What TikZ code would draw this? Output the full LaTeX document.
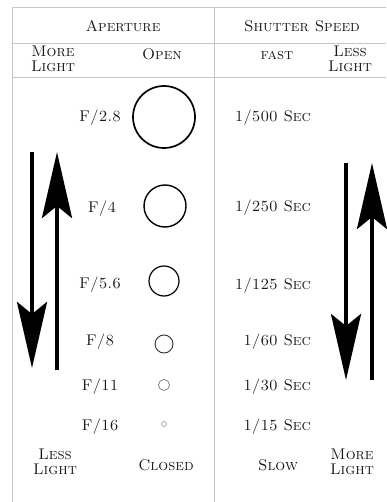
\documentclass[tikz,border=0pt]{standalone}
\usetikzlibrary{arrows.meta}

\begin{document}
\begin{tikzpicture}[x=1pt, y=-1pt,
  lbl/.style={font=\fontsize{15.5}{14.5}\selectfont\scshape, text=black!90,
              align=center, inner sep=0pt},
  rule/.style={draw=black!22, line width=0.8pt},
  hole/.style={circle, draw=#1, inner sep=0pt, outer sep=0pt},
  bigarr/.style={-{Stealth[length=66pt, width=30pt, inset=12pt]}, line width=4pt}
]
\useasboundingbox (0,0) rectangle (386,502);

%% ── Table rules ────────────────────────────────────────────────
\draw[rule] (12,502) -- (12,7) -- (386,7);
\draw[rule] (12,43) -- (386,43);
\draw[rule] (12,77) -- (386,77);
\draw[rule] (214,7) -- (214,502);

%% ── Headers ────────────────────────────────────────────────────
\node[lbl, anchor=base] (aper) at (123,32) {Aperture};
\node[lbl, anchor=base] (shut) at (302,32) {Shutter Speed};
\node[lbl] (moreTL) at (53,59) {More\\Light};
\node[lbl, anchor=base] (open) at (162,60) {Open};
\node[lbl, anchor=base] (fast) at (277,60) {\textsc{fast}};
\node[lbl] (lessTR) at (350,59) {Less\\Light};

%% ── Apertures ──────────────────────────────────────────────────
\node[lbl, anchor=base] (f28) at (100,122) {F/2.8};
\node[lbl, anchor=base] (f4)  at (102,213) {F/4};
\node[lbl, anchor=base] (f56) at (100,288) {F/5.6};
\node[lbl, anchor=base] (f8)  at (100,345) {F/8};
\node[lbl, anchor=base] (f11) at (100,390) {F/11};
\node[lbl, anchor=base] (f16) at (100,430) {F/16};

\node[hole=black, line width=1.7pt, minimum size=62pt] (c28) at (164,117) {};
\node[hole=black, line width=1.4pt, minimum size=42pt] (c4)  at (165,206) {};
\node[hole=black, line width=1.2pt, minimum size=30pt] (c56) at (164,281) {};
\node[hole=black!80, line width=0.9pt, minimum size=18pt] (c8)  at (164,344) {};
\node[hole=black!55, line width=0.7pt, minimum size=11pt] (c11) at (164,385) {};
\node[hole=black!40, line width=0.6pt, minimum size=5pt]  (c16) at (164,424) {};

%% ── Shutter speeds ─────────────────────────────────────────────
\node[lbl, anchor=base east] (s500) at (311,122) {1/500 Sec};
\node[lbl, anchor=base east] (s250) at (311,212) {1/250 Sec};
\node[lbl, anchor=base east] (s125) at (311,289) {1/125 Sec};
\node[lbl, anchor=base east] (s60)  at (311,345) {1/60 Sec};
\node[lbl, anchor=base east] (s30)  at (311,390) {1/30 Sec};
\node[lbl, anchor=base east] (s15)  at (311,430) {1/15 Sec};

%% ── Bottom row ─────────────────────────────────────────────────
\node[lbl] (lessBL) at (55,462) {Less\\Light};
\node[lbl, anchor=base] (closed) at (166,470) {Closed};
\node[lbl, anchor=base] (slow) at (278,470) {Slow};
\node[lbl] (moreBR) at (352,462) {More\\Light};

%% ── Arrows ─────────────────────────────────────────────────────
\coordinate (la1) at (32,152);  \coordinate (la2) at (32,368);
\coordinate (lb1) at (57,370);  \coordinate (lb2) at (57,152);
\coordinate (ra1) at (346,163); \coordinate (ra2) at (346,380);
\coordinate (rb1) at (372,380); \coordinate (rb2) at (372,163);

\draw[bigarr] (la1) -- (la2);
\draw[bigarr] (lb1) -- (lb2);
\draw[bigarr] (ra1) -- (ra2);
\draw[bigarr] (rb1) -- (rb2);

\end{tikzpicture}
\end{document}
